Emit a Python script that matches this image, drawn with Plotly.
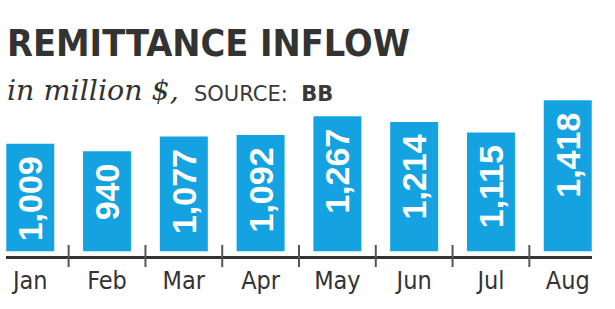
import plotly.graph_objects as go

months = ["Jan", "Feb", "Mar", "Apr", "May", "Jun", "Jul", "Aug"]
inflow = [1009, 940, 1077, 1092, 1267, 1214, 1115, 1418]

title_text = "REMITTANCE INFLOW"
subtitle_text = "in million $,"
source_text = "SOURCE:\u00a0\u00a0<b>BB</b>"

BAR_COLOR = "#15a2e0"
DARK = "#333333"
CONDENSED = "DejaVu Sans Condensed, sans-serif"

W, H = 615, 309
L, R, T, B = 6, 22.6, 98, 53
plot_h = H - T - B

fig = go.Figure()
fig.add_trace(go.Bar(
    x=months, y=inflow,
    marker=dict(color=BAR_COLOR, line=dict(width=0)),
    texttemplate="%{y:,}\u00a0",
    textposition="inside",
    insidetextanchor="end",
    textangle=-90,
    constraintext="none",
    textfont=dict(color="white", size=34, family="Liberation Sans, Arial, sans-serif",
                  weight="bold"),
    hoverinfo="skip",
))

# tick marks between months (crossing the axis line)
for i in range(len(months) - 1):
    fig.add_shape(type="line", xref="x", yref="paper",
                  x0=i + 0.5, x1=i + 0.5,
                  y0=-11 / plot_h, y1=11 / plot_h,
                  line=dict(color="#555555", width=2))

def py(px):
    return (H - B - px) / plot_h

def px_x(px):
    return (px - L) / (W - L - R)

fig.add_annotation(text=f"<b>{title_text}</b>", xref="paper", yref="paper",
                   x=px_x(5), y=py(43.5), xanchor="left", yanchor="middle",
                   showarrow=False,
                   font=dict(family=CONDENSED, size=37.5, color=DARK))
fig.add_annotation(text=f"<i>{subtitle_text}</i>", xref="paper", yref="paper",
                   x=px_x(5), y=py(90), xanchor="left", yanchor="middle",
                   showarrow=False,
                   font=dict(family="DejaVu Serif, serif", size=28.5, color=DARK))
fig.add_annotation(text=source_text, xref="paper", yref="paper",
                   x=px_x(192), y=py(94), xanchor="left", yanchor="middle",
                   showarrow=False,
                   font=dict(family="DejaVu Sans, sans-serif", size=21, color="#3a3a3a"))

fig.update_layout(
    width=W, height=H,
    margin=dict(l=L, r=R, t=T, b=B, pad=0),
    paper_bgcolor="white", plot_bgcolor="white",
    bargap=0.375,
    showlegend=False,
    xaxis=dict(range=[-0.316, 7.316], showline=True, linecolor=DARK, linewidth=2.5,
               ticks="", showgrid=False, zeroline=False,
               tickfont=dict(family=CONDENSED, size=25, color=DARK),
               ticklabelstandoff=0, fixedrange=True),
    yaxis=dict(range=[-44, 1439], visible=False, showgrid=False, zeroline=False,
               fixedrange=True),
)

fig.write_html("out.html", config={"displayModeBar": False})
